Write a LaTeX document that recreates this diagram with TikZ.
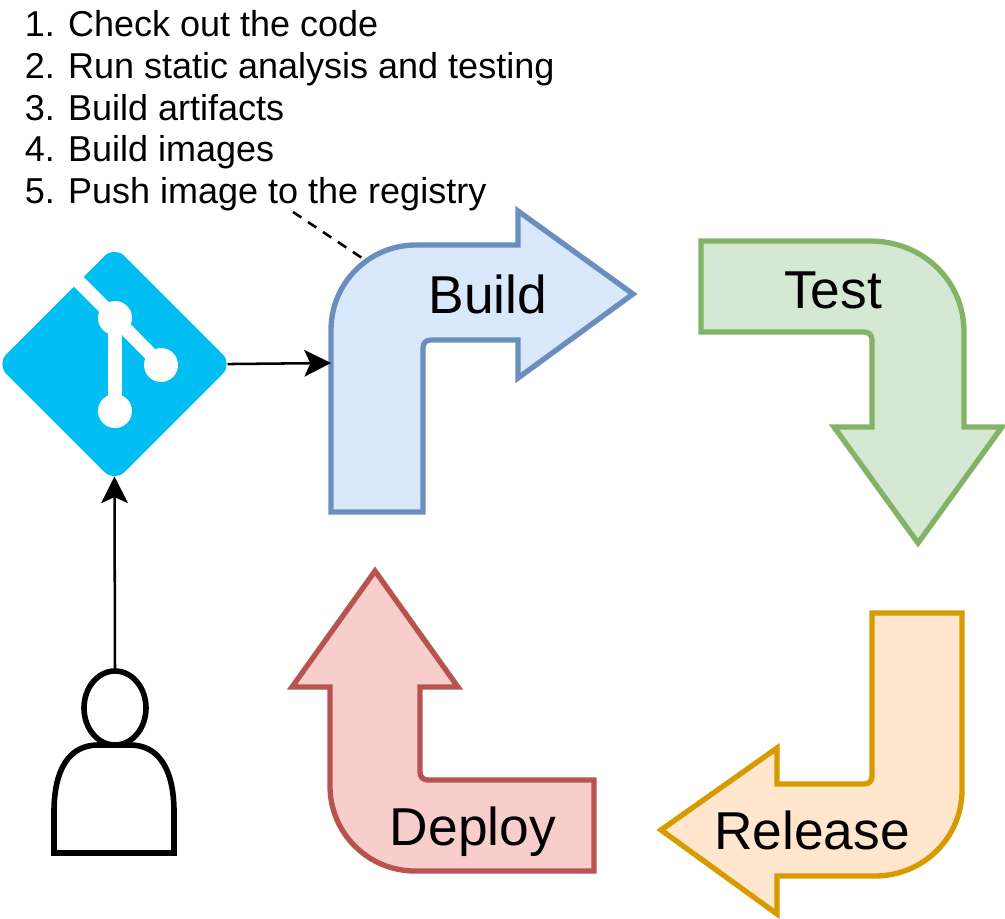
\documentclass[tikz,border=0pt]{standalone}
\usepackage{fontspec}
\setmainfont{Liberation Sans}
\usetikzlibrary{arrows.meta, shapes.geometric}
\definecolor{clrbuild}{HTML}{DAE8FC}
\definecolor{clrbuild_line}{HTML}{6C8EBF}
\definecolor{clrtest}{HTML}{D5E8D4}
\definecolor{clrtest_line}{HTML}{82B366}
\definecolor{clrrelease}{HTML}{FFE6CC}
\definecolor{clrrelease_line}{HTML}{D79B00}
\definecolor{clrdeploy}{HTML}{F8CECC}
\definecolor{clrdeploy_line}{HTML}{B85450}
\definecolor{clrgit}{HTML}{00BEF2}

\begin{document}
\begin{tikzpicture}[
    x=0.75pt, y=-0.75pt,
    >={Stealth[length=20pt, width=20pt, inset=4.5pt]},
    every node/.style={font=\normalfont},
    stage/.style={line width=4pt, miter limit=10},
    stagelabel/.style={font=\fontsize{40}{44}\selectfont, inner sep=0},
    arrow/.style={->, line width=1.9pt, color=black},
    note/.style={line width=1.9pt, dash pattern=on 7.5pt off 6pt},
    gitline/.style={color=white, line width=10.3pt},
    gitdot/.style={circle, fill=white, minimum size=25.5pt, inner sep=0},
    person/.style={draw=black, line width=4.2pt, fill=white},
]
\useasboundingbox (0,0) rectangle (1005,918);
% stages
\draw[stage, draw=clrbuild_line, fill=clrbuild] (331,512) -- (331,330) .. controls (331,283) and (369,245) .. (416,245) -- (518,245) -- (518,211) -- (633,294) -- (518,378) -- (518,340) -- (431,340) .. controls (426,340) and (423,343) .. (423,348) -- (423,512) -- cycle;
\draw[stage, draw=clrtest_line, fill=clrtest] (701,241) -- (870,241) .. controls (922,241) and (964,280) .. (964,332) -- (964,427) -- (1002,427) -- (918,543) -- (834,427) -- (872,427) -- (872,340) .. controls (872,335) and (869,332) .. (864,332) -- (701,332) -- cycle;
\draw[stage, draw=clrrelease_line, fill=clrrelease] (962,613) -- (962,790) .. controls (962,838) and (923,876) .. (875,876) -- (777,876) -- (777,914) -- (661,830) -- (777,748) -- (777,784) -- (864,784) .. controls (869,784) and (872,781) .. (872,776) -- (872,613) -- cycle;
\draw[stage, draw=clrdeploy_line, fill=clrdeploy] (594,780) -- (594,871) -- (415,871) .. controls (368,871) and (330,833) .. (330,786) -- (330,687) -- (292,687) -- (375,571) -- (458,687) -- (420,687) -- (420,772) .. controls (420,777) and (423,780) .. (428,780) -- cycle;
\node[stagelabel] (n_build) at (488,294) {Build};
\node[stagelabel] (n_test) at (833,290) {Test};
\node[stagelabel] (n_release) at (812,830) {Release};
\node[stagelabel] (n_deploy) at (473,832) {Deploy};
\coordinate (build_in) at (331,363);
\coordinate (build_note) at (362,258);
% git logo
\node[diamond, fill=clrgit, rounded corners=10.5pt, minimum width=177pt, minimum height=177pt, inner sep=0, outer sep=0] (n_git) at (114.5,364) {};
\draw[gitline] (74,277) -- (115,318) -- (161,365);
\draw[gitline] (115,318) -- (115,411);
\node[gitdot] (git_top) at (115,318) {};
\node[gitdot] (git_right) at (161,365) {};
\node[gitdot] (git_bottom) at (115,411) {};
% user
\draw[person] (54,853) -- (54,812) .. controls (54,768) and (70,745) .. (98,745) -- (130,745) .. controls (158,745) and (174,768) .. (174,812) -- (174,853) -- cycle;
\node[ellipse, person, minimum width=46.5pt, minimum height=55.5pt, inner sep=0, outer sep=0] (n_user) at (115,708) {};
% steps
\node[anchor=north west, align=left, inner sep=0, font=\fontsize{27}{31.4}\selectfont] (n_steps) at (24.5,10) {1. Check out the code\\2. Run static analysis and testing\\3. Build artifacts\\4. Build images\\5. Push image to the registry};
\coordinate (steps_out) at (293,212);
\draw[note] (steps_out) -- (build_note);
\draw[arrow, shorten <=-3.75pt] (n_git.east) -- (build_in);
\draw[arrow, shorten >=-4.2pt] (n_user.north) -- (n_git.south);
\end{tikzpicture}
\end{document}
